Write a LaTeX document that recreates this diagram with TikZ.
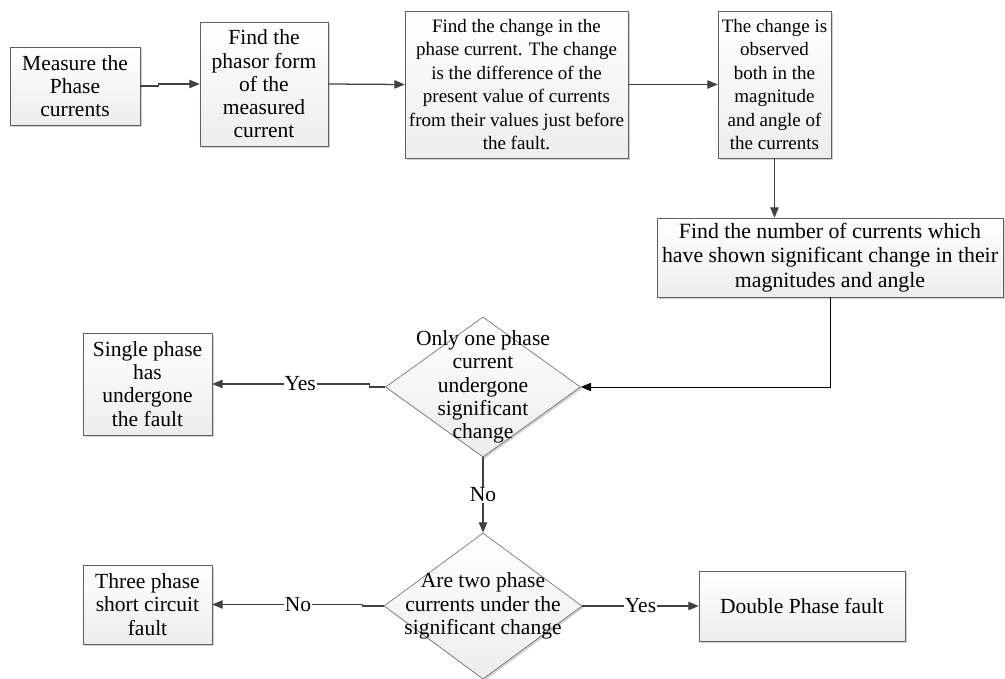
\documentclass[tikz,border=0pt]{standalone}
\usepackage{fontspec}
\setmainfont{Liberation Serif}
\usetikzlibrary{shapes.geometric,arrows.meta,shadows}
\def \FontSet {\fontsize{15.3}{16.5}\selectfont}
\def \FontSmall {\fontsize{13.5}{16.7}\selectfont}
\def \FontWide {\fontsize{15.5}{17.4}\selectfont}
\tikzstyle{block}=[
  draw=gray!75!black,
  rectangle,
  top color=white,
  bottom color=gray!14,
  drop shadow={shadow xshift=1.2pt,shadow yshift=-1.2pt,fill=black,opacity=0.18},
  align=center,
  inner sep=1pt,
  font=\FontSet
]
\tikzstyle{decision}=[
  block,
  diamond,
  inner sep=0pt
]
\tikzstyle{conn}=[
  draw=black!75,
  line width=0.9pt,
  -{Triangle[length=2.6mm,width=2.1mm]}
]
\tikzstyle{feed}=[
  draw=black,
  line width=0.6pt,
  -{Triangle[length=2.6mm,width=2.1mm]}
]
\tikzstyle{answer}=[
  fill=white,
  inner sep=0.5pt,
  font=\FontSet
]

\begin{document}
\begin{tikzpicture}[x=0.025cm, y=-0.025cm]
          \useasboundingbox (0,0) rectangle (1005,678);

          % top row
          \node[block, minimum width=3.25cm, minimum height=1.95cm] (meas) at (75,86)
            {Measure the\\Phase\\currents};
          \node[block, minimum width=3.2cm, minimum height=3.1cm] (phasor) at (264,84)
            {Find the\\phasor form\\of the\\measured\\current};
          \node[block, font=\FontSmall, minimum width=5.575cm, minimum height=3.675cm] (change) at (516.5,84.5)
            {Find the change in the\\phase current. The change\\is the difference of the\\present value of currents\\from their values just before\\the fault.};
          \node[block, font=\FontSmall, minimum width=2.825cm, minimum height=3.675cm] (observ) at (774.5,84.5)
            {The change is\\observed\\both in the\\magnitude\\and angle of\\the currents};
          \node[block, font=\FontWide, minimum width=8.65cm, minimum height=1.975cm] (count) at (830,257.5)
            {Find the number of currents which\\have shown significant change in their\\magnitudes and angle};

          % decisions
          \node[decision, minimum width=4.875cm, minimum height=3.5cm] (only) at (483,387) {};
          \node[align=center, font=\FontSet] (onlytxt) at (only)
            {Only one phase\\current\\undergone\\significant\\change};
          \node[decision, minimum width=4.95cm, minimum height=3.65cm] (two) at (483,606) {};
          \node[align=center, font=\FontSet] (twotxt) at (two)
            {Are two phase\\currents under the\\significant change};

          % results
          \node[block, minimum width=3.225cm, minimum height=2.55cm] (single) at (147.5,384)
            {Single phase\\has\\undergone\\the fault};
          \node[block, minimum width=3.225cm, minimum height=1.975cm] (three) at (147.5,604.5)
            {Three phase\\short circuit\\fault};
          \node[block, minimum width=5.15cm, minimum height=1.75cm] (double) at (802,606)
            {Double Phase fault};

          % connect top row
          \draw[conn] (meas.east) -- ++(18,0) |- (phasor.west);
          \draw[conn] (phasor.east) -- (change.west);
          \draw[conn] (change.east) -- (observ.west);
          \draw[conn] (observ.south) -- (observ.south |- count.north);
          \draw[feed] (count.south) |- (only.east);

          % connect decisions
          \draw[conn] (only.west) -- ++(-16,0) |- (single.east) node[answer, pos=0.72] {Yes};
          \draw[conn] (only.south) -- (two.north) node[answer, midway] {No};
          \draw[conn] (two.west) -- ++(-21,0) |- (three.east) node[answer, pos=0.715] {No};
          \draw[conn] (two.east) -- (double.west) node[answer, midway] {Yes};
        \end{tikzpicture}
\end{document}
